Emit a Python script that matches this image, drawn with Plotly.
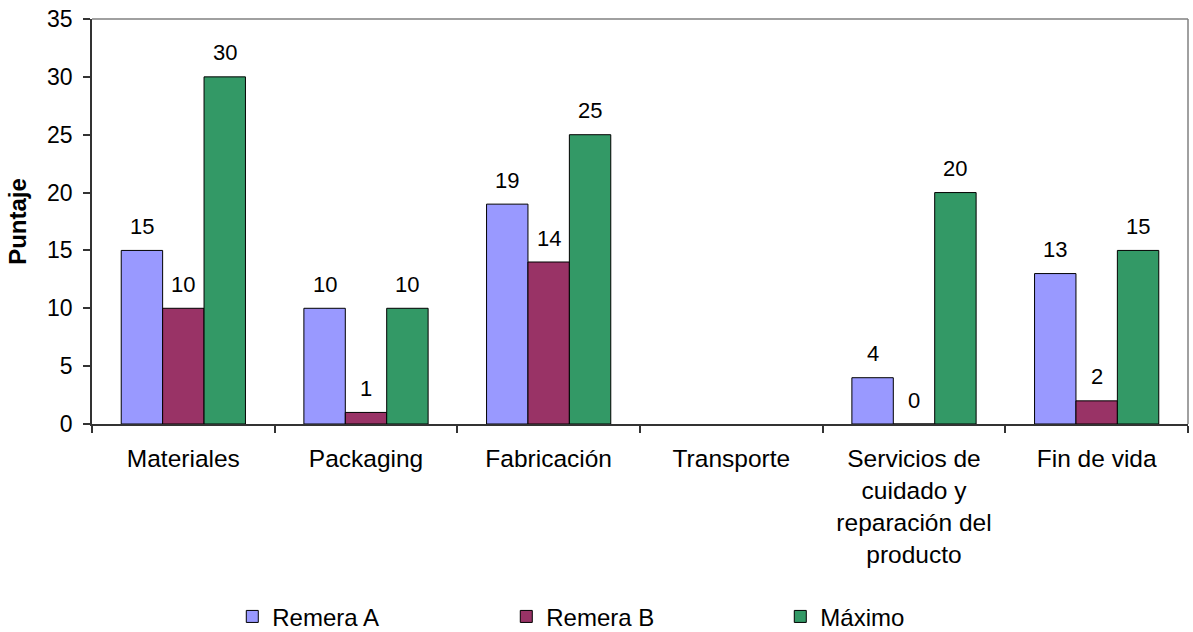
import plotly.graph_objects as go

# Categories and scores per product
categorias = [
    "Materiales",
    "Packaging",
    "Fabricación",
    "Transporte",
    "Servicios de<br>cuidado y<br>reparación del<br>producto",
    "Fin de vida",
]
remera_a = [15, 10, 19, None, 4, 13]
remera_b = [10, 1, 14, None, 0, 2]
maximo = [30, 10, 25, None, 20, 15]

series = [
    ("Remera A", remera_a, "#9999FF", "legend"),
    ("Remera B", remera_b, "#993366", "legend2"),
    ("Máximo", maximo, "#339966", "legend3"),
]

FONT = "Liberation Sans, Arial, sans-serif"
W, H = 1193, 632
M_L, M_R, M_T, M_B = 92, 5, 19, 208
BARGAP = 0.32

fig = go.Figure()
for name, vals, color, leg in series:
    fig.add_trace(go.Bar(
        x=categorias, y=vals, name=name,
        marker=dict(color=color, line=dict(color="#000000", width=1)),
        legend=leg,
        hoverinfo="skip",
    ))

# value labels above each bar, shifted onto their bar within the group
plot_w = W - M_L - M_R
bar_px = plot_w / len(categorias) * (1 - BARGAP) / len(series)
annotations = []
for i, (name, vals, color, leg) in enumerate(series):
    for cat, v in zip(categorias, vals):
        if v is None:
            continue
        annotations.append(dict(
            x=cat, y=v, xref="x", yref="y", text=str(v), showarrow=False,
            xshift=(i - 1) * bar_px, yshift=24,
            font=dict(family=FONT, size=22, color="#000000"),
        ))

# gray frame on the top and right sides of the plot area
shapes = [
    dict(type="line", xref="paper", yref="paper", x0=0, x1=1, y0=1, y1=1,
         line=dict(color="#808080", width=1.5)),
    dict(type="line", xref="paper", yref="paper", x0=1, x1=1, y0=0, y1=1,
         line=dict(color="#808080", width=1.5)),
]

legend_common = dict(
    orientation="h", yref="container", y=0.024, yanchor="middle",
    xanchor="left", font=dict(family=FONT, size=24, color="#000000"),
    bgcolor="rgba(0,0,0,0)",
)

fig.update_layout(
    width=W, height=H,
    margin=dict(l=M_L, r=M_R, t=M_T, b=M_B, pad=0),
    paper_bgcolor="white", plot_bgcolor="white",
    barmode="group", bargap=BARGAP, bargroupgap=0,
    font=dict(family=FONT, color="#000000"),
    showlegend=True,
    legend=dict(x=0.128, **legend_common),
    legend2=dict(x=0.378, **legend_common),
    legend3=dict(x=0.628, **legend_common),
    annotations=annotations,
    shapes=shapes,
    xaxis=dict(
        showline=True, linecolor="#333333", linewidth=1.5,
        ticks="outside", tickson="boundaries", ticklen=7,
        tickcolor="#333333", tickwidth=1.5,
        tickfont=dict(family=FONT, size=24.5, color="#000000"),
        ticklabelstandoff=12,
        showgrid=False, zeroline=False, fixedrange=True,
    ),
    yaxis=dict(
        range=[0, 35], dtick=5, tick0=0,
        showline=True, linecolor="#333333", linewidth=1.5,
        ticks="outside", ticklen=7, tickcolor="#333333", tickwidth=1.5,
        tickfont=dict(family=FONT, size=23, color="#000000"),
        ticklabelstandoff=6,
        showgrid=False, zeroline=False, fixedrange=True,
        title=dict(text="<b>Puntaje</b>", standoff=14,
                   font=dict(family=FONT, size=24, color="#000000")),
    ),
)

fig.write_html("out.html")
